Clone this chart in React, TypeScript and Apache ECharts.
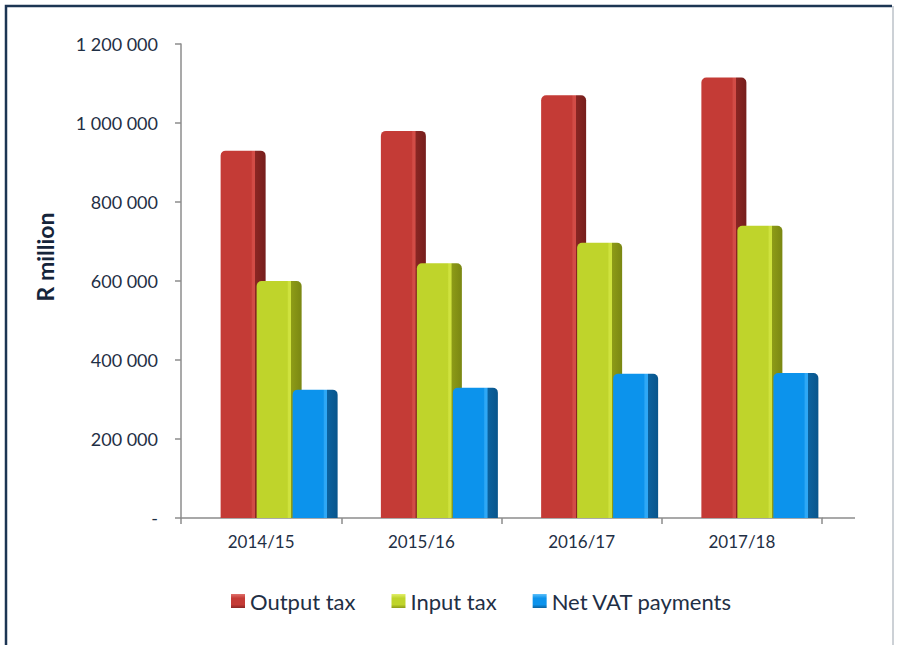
import React, { useEffect, useRef } from "react";
import * as echarts from "echarts";

const categories = ["2014/15", "2015/16", "2016/17", "2017/18"];
const outputTax = [930000, 980000, 1070000, 1115000];
const inputTax = [600000, 645000, 697000, 740000];
const netVat = [325000, 330000, 365000, 367000];
const yTicks = { min: 0, max: 1200000, interval: 200000 };
const seriesNames = ["Output tax", "Input tax", "Net VAT payments"];

const FONT = "Lato, 'Open Sans', sans-serif";
const TEXT = "#1f2f45";

function bar3d(front: string, strip: string, side: string, sideDark: string) {
  return new echarts.graphic.LinearGradient(0, 0, 1, 0, [
    { offset: 0, color: front },
    { offset: 0.68, color: front },
    { offset: 0.71, color: strip },
    { offset: 0.765, color: strip },
    { offset: 0.775, color: side },
    { offset: 1, color: sideDark },
  ]);
}

function legendIcon(light: string, base: string, dark: string) {
  return new echarts.graphic.LinearGradient(0, 0, 0, 1, [
    { offset: 0, color: light },
    { offset: 0.3, color: base },
    { offset: 0.75, color: base },
    { offset: 1, color: dark },
  ]);
}

function fmt(v: number) {
  if (v === 0) return "-";
  return String(v).replace(/\B(?=(\d{3})+(?!\d))/g, " ");
}

export default function App() {
  const ref = useRef<HTMLDivElement>(null);
  useEffect(() => {
    if (!ref.current) return;
    const chart = echarts.init(ref.current, null, { renderer: "svg" });
    const common = {
      type: "bar" as const,
      barWidth: 45,
      barGap: "-20%",
      barCategoryGap: "0%",
    };
    const icons = [
      legendIcon("#e0706b", "#c43b36", "#8a2623"),
      legendIcon("#e2ef6a", "#bfd42b", "#8d9b17"),
      legendIcon("#5cc0fa", "#0c93ec", "#0b629f"),
    ];
    chart.setOption({
      animation: false,
      backgroundColor: "#ffffff",
      grid: { left: 181, right: 75, top: 44, bottom: 127 },
      legend: {
        data: seriesNames.map((n, i) => ({ name: n, itemStyle: { color: icons[i] } })),
        top: 585,
        left: 226,
        itemWidth: 14,
        itemHeight: 14,
        itemGap: 36,
        icon: "rect",
        textStyle: { fontFamily: FONT, fontSize: 22, color: TEXT, padding: [0, 0, 0, 0] },
      },
      xAxis: {
        type: "category",
        data: categories,
        axisLine: { show: true, lineStyle: { color: "#8c8c8c", width: 1.5 } },
        axisTick: { show: true, length: 6, lineStyle: { color: "#8c8c8c", width: 1.5 } },
        axisLabel: { margin: 15, fontFamily: FONT, fontSize: 17, color: TEXT },
        splitLine: { show: false },
      },
      yAxis: {
        type: "value",
        min: yTicks.min,
        max: yTicks.max,
        interval: yTicks.interval,
        axisLine: { show: true, lineStyle: { color: "#8c8c8c", width: 1.5 } },
        axisTick: { show: true, length: 6, lineStyle: { color: "#8c8c8c", width: 1.5 } },
        axisLabel: {
          margin: 23,
          fontFamily: FONT,
          fontSize: 18,
          color: TEXT,
          formatter: (v: number) => fmt(v),
        },
        splitLine: { show: false },
      },
      graphic: [
        {
          type: "line",
          shape: { x1: 822, y1: 518, x2: 855, y2: 518 },
          style: { stroke: "#8c8c8c", lineWidth: 1.5 },
          silent: true,
        },
        {
          type: "text",
          x: 45,
          y: 257,
          rotation: Math.PI / 2,
          style: {
            text: "R million",
            fontFamily: FONT,
            fontSize: 23,
            fontWeight: "bold",
            fill: "#15243a",
            textAlign: "center",
            textVerticalAlign: "middle",
          },
          silent: true,
        },
        {
          type: "polyline",
          shape: { points: [[6, 650], [6, 6], [892, 6]] },
          style: { stroke: "#1c3553", lineWidth: 2.5, fill: "none" },
          silent: true,
        },
        {
          type: "line",
          shape: { x1: 893, y1: 6, x2: 893, y2: 650 },
          style: { stroke: "#9aa3ad", lineWidth: 1 },
          silent: true,
        },
      ],
      series: [
        {
          ...common,
          name: "_pad",
          data: categories.map(() => null),
          itemStyle: { color: "transparent" },
          silent: true,
        },
        {
          ...common,
          name: seriesNames[0],
          data: outputTax,
          itemStyle: {
            color: bar3d("#c43b36", "#d24c46", "#8a2623", "#761e1c"),
            borderRadius: [5, 5, 0, 0],
          },
        },
        {
          ...common,
          name: seriesNames[1],
          data: inputTax,
          itemStyle: {
            color: bar3d("#bfd42b", "#cfe23e", "#8d9b17", "#7a8712"),
            borderRadius: [5, 5, 0, 0],
          },
        },
        {
          ...common,
          name: seriesNames[2],
          data: netVat,
          itemStyle: {
            color: bar3d("#0c93ec", "#2ea8f6", "#0b629f", "#09558b"),
            borderRadius: [5, 5, 0, 0],
          },
        },
      ],
    });
    return () => chart.dispose();
  }, []);
  return (
    <div
      ref={ref}
      style={{ position: "fixed", left: 0, top: 0, width: 897, height: 645 }}
    />
  );
}
